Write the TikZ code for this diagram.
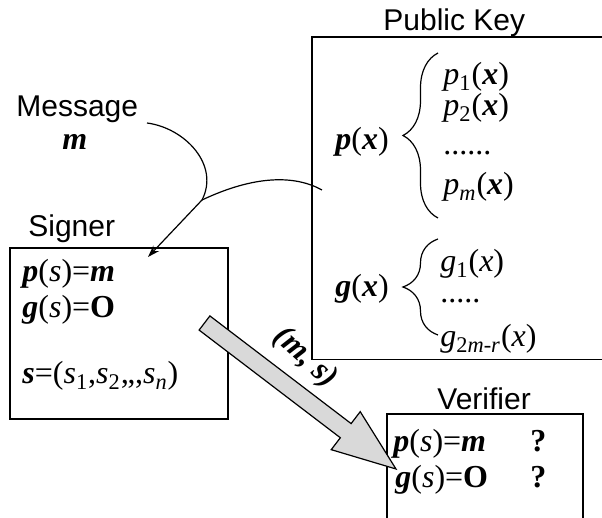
\documentclass[tikz,border=0pt]{standalone}
\usepackage{fontspec}
\setmainfont{Liberation Serif}
\setsansfont{Liberation Sans}
\usepackage{tikz}
\usetikzlibrary{arrows.meta,calc,decorations.pathreplacing}
\definecolor{sgInk}{HTML}{000000}
\definecolor{sgArrow}{HTML}{D9D9D9}
\newcommand{\bi}[1]{\textbf{\textit{#1}}}
\tikzset{
  % Plain frame
  frame/.style={rectangle,draw=sgInk,line width=0.6pt,inner sep=0pt},
  % Sans labels (titles)
  lbl/.style={font=\sffamily\fontsize{15}{18}\selectfont,
    inner sep=0pt,anchor=base west,text=sgInk},
  % Serif formulas
  eq/.style={font=\fontsize{16}{19}\selectfont,
    inner sep=0pt,anchor=base west,text=sgInk},
  % Thin connectors
  conn/.style={line width=0.6pt,color=sgInk},
  % Left curly brace
  lbrace/.style={decorate,line width=0.6pt,
    decoration={brace,amplitude=17.5pt}},
  % Fat gray arrow
  bigarr/.style={draw=sgInk,fill=sgArrow,line width=0.6pt,line join=miter},
}
\begin{document}
\begin{tikzpicture}[x=0.5pt,y=-0.5pt]
  \useasboundingbox (0,0) rectangle (602,518);
  \clip (0,0) rectangle (602,518);

  % Boxes
  \node[frame,minimum width=164pt,minimum height=161.25pt] (pubkey) at (476,198.25) {};
  \node[frame,minimum width=109pt,minimum height=85.5pt] (signer) at (119,333.5) {};
  \node[frame,minimum width=98pt,minimum height=73pt] (verifier) at (485,487) {};

  % Titles
  \node[lbl] (pktitle) at (383,31) {Public Key};
  \node[lbl] (sgtitle) at (28,237) {Signer};
  \node[lbl] (vftitle) at (437,410) {Verifier};
  \node[lbl] (msg) at (16,117) {Message};
  \node[eq] (msgm) at (62,150) {\bi{m}};

  % Public key: p(x)
  \node[eq] (px) at (335,150) {\bi{p}(\bi{x})};
  \draw[lbrace] (438,218) -- (438,53);
  \node[eq] (p1) at (443,85) {\textit{p}\textsubscript{1}(\bi{x})};
  \node[eq] (p2) at (443,116) {\textit{p}\textsubscript{2}(\bi{x})};
  \node[eq] (pdots) at (443,155) {......};
  \node[eq] (pm) at (443,195) {\textit{p}\textsubscript{\textit{m}}(\bi{x})};

  % Public key: g(x)
  \node[eq] (gx) at (335,297) {\bi{g}(\bi{x})};
  \draw[lbrace] (438,335) -- (438,239);
  \node[eq] (g1) at (440,272) {\textit{g}\textsubscript{1}(\textit{x})};
  \node[eq] (gdots) at (440,303) {.....};
  \node[eq] (gk) at (440,347) {\textit{g}\textsubscript{2\textit{m}-\textit{r}}(\textit{x})};

  % Signer
  \node[eq] (sgp) at (22,282) {\bi{p}(\textit{s})=\bi{m}};
  \node[eq] (sgg) at (22,318) {\bi{g}(\textit{s})=\textbf{O}};
  \node[eq] (sgs) at (22,384) {\bi{s}=(\textit{s}\textsubscript{1},\textit{s}\textsubscript{2},,,\textit{s}\textsubscript{\textit{n}})};

  % Verifier
  \node[eq] (vfp) at (393,452) {\bi{p}(\textit{s})=\bi{m}};
  \node[eq] (vfpq) at (530,452) {\textbf{?}};
  \node[eq] (vfg) at (395,488) {\bi{g}(\textit{s})=\textbf{O}};
  \node[eq] (vfgq) at (530,488) {\textbf{?}};

  % Inputs to the signer
  \coordinate (msgout) at (147,123);
  \coordinate (pkout) at (322,190);
  \coordinate (join) at (202,200);
  \coordinate (sgin) at (148,257);
  \draw[conn,-{Stealth[length=6pt,width=4pt]}] (msgout)
    .. controls (185,128) and (220,165) .. (join) -- (sgin);
  \draw[conn] (pkout) .. controls (295,175) and (255,175) .. (join);

  % Signature sent to the verifier
  \coordinate (sgout) at (204.5,323);
  \coordinate (vfin) at (396,469);
  \coordinate (hb) at ($(sgout)!0.7375!(vfin)$);
  \draw[bigarr] ($(sgout)!4.45pt!90:(vfin)$) -- ($(hb)!4.45pt!90:(vfin)$)
    -- ($(hb)!11.95pt!90:(vfin)$) -- (vfin) -- ($(hb)!11.95pt!-90:(vfin)$)
    -- ($(hb)!4.45pt!-90:(vfin)$) -- ($(sgout)!4.45pt!-90:(vfin)$) -- cycle;
  \node[eq,anchor=center,rotate=-42] (pair) at (305,358) {\bi{(m, s)}};
\end{tikzpicture}
\end{document}
